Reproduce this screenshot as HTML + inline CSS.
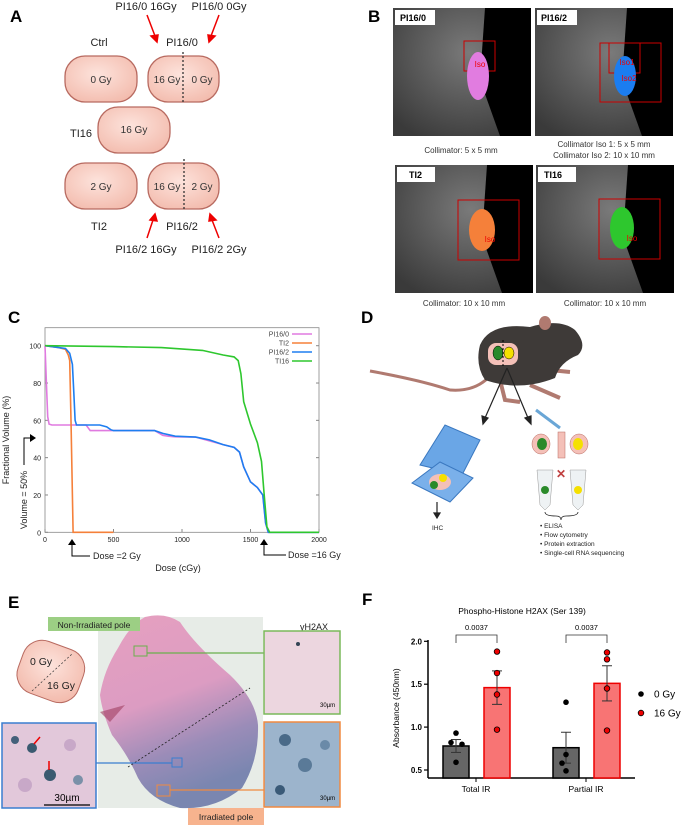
<!DOCTYPE html>
<html><head><meta charset="utf-8"><style>
html,body{margin:0;padding:0;background:#fff;}
body{width:685px;height:830px;position:relative;overflow:hidden;font-family:"Liberation Sans",sans-serif;}
svg{position:absolute;left:0;top:0;}
</style></head><body>
<svg width="685" height="830" viewBox="0 0 685 830" font-family="Liberation Sans, sans-serif">
<defs>
<radialGradient id="blob" cx="45%" cy="40%" r="65%"><stop offset="0" stop-color="#fde3dc"/><stop offset="1" stop-color="#f3bcae"/></radialGradient>
<radialGradient id="ct" cx="55%" cy="35%" r="75%"><stop offset="0" stop-color="#7a7a7a"/><stop offset="1" stop-color="#3a3a3a"/></radialGradient>
<linearGradient id="tis" x1="0" y1="0" x2="0.3" y2="1"><stop offset="0" stop-color="#e6a0c0"/><stop offset="0.5" stop-color="#dc9cc2"/><stop offset="0.78" stop-color="#9a8cb8"/><stop offset="1" stop-color="#7a86b0"/></linearGradient>
</defs>

<!-- Panel A -->
<g>
<text x="10" y="22" font-size="17" font-weight="bold">A</text>
<g font-size="11" fill="#222" text-anchor="middle">
<text x="146" y="10">PI16/0 16Gy</text>
<text x="219" y="10">PI16/0 0Gy</text>
<text x="99" y="46">Ctrl</text>
<text x="182" y="46">PI16/0</text>
<text x="81" y="137">TI16</text>
<text x="99" y="230">TI2</text>
<text x="182" y="230">PI16/2</text>
<text x="146" y="253">PI16/2 16Gy</text>
<text x="219" y="253">PI16/2 2Gy</text>
</g>
<g stroke="#e00" stroke-width="1.5" fill="#e00">
<line x1="147" y1="15" x2="155" y2="36"/><polygon points="151,36 158,35 157,42"/>
<line x1="219" y1="15" x2="211" y2="36"/><polygon points="208,35 215,36 209,42"/>
<line x1="147" y1="238" x2="153" y2="220"/><polygon points="150,220 157,221 155,214"/>
<line x1="219" y1="238" x2="212" y2="220"/><polygon points="209,221 216,220 210,214"/>
</g>
<g stroke="#b86a60" stroke-width="1.3" fill="url(#blob)" font-size="10" text-anchor="middle">
<g><rect x="65" y="56" width="72" height="46" rx="20"/><text x="101" y="83" fill="#333" stroke="none">0 Gy</text></g>
<g><rect x="148" y="56" width="71" height="46" rx="20"/><line x1="183" y1="52" x2="183" y2="104" stroke="#333" stroke-dasharray="2,2"/><text x="167" y="83" fill="#333" stroke="none">16 Gy</text><text x="202" y="83" fill="#333" stroke="none">0 Gy</text></g>
<g><rect x="98" y="107" width="72" height="46" rx="20"/><text x="134" y="133" fill="#333" stroke="none">16 Gy</text></g>
<g><rect x="65" y="163" width="72" height="46" rx="20"/><text x="101" y="190" fill="#333" stroke="none">2 Gy</text></g>
<g><rect x="148" y="163" width="71" height="46" rx="20"/><line x1="184" y1="159" x2="184" y2="211" stroke="#333" stroke-dasharray="2,2"/><text x="167" y="190" fill="#333" stroke="none">16 Gy</text><text x="202" y="190" fill="#333" stroke="none">2 Gy</text></g>
</g>
</g>

<!-- Panel B -->
<g>
<text x="368" y="22" font-size="17" font-weight="bold">B</text>
<g>
<rect x="393" y="8" width="138" height="128" fill="url(#ct)"/><polygon points="485,8 531,8 531,136 500,136 480,80" fill="#000"/>
<rect x="464" y="41" width="31" height="30" fill="none" stroke="#c00"/><ellipse cx="478" cy="76" rx="11" ry="24" fill="#e17ce0"/>
<text x="480" y="67" font-size="8" fill="#e00" text-anchor="middle">Iso</text>
<rect x="395" y="10" width="40" height="15" fill="#fff"/><text x="400" y="21" font-size="9" font-weight="bold">PI16/0</text></g>
<g>
<rect x="535" y="8" width="138" height="128" fill="url(#ct)"/><polygon points="627,8 673,8 673,136 642,136 622,80" fill="#000"/>
<rect x="600" y="43" width="61" height="59" fill="none" stroke="#c00"/><rect x="609" y="43" width="31" height="30" fill="none" stroke="#c00"/>
<ellipse cx="625" cy="76" rx="11" ry="20" fill="#1b7df0"/>
<text x="627" y="65" font-size="8" fill="#e00" text-anchor="middle">Iso1</text><text x="629" y="81" font-size="8" fill="#e00" text-anchor="middle">Iso2</text>
<rect x="537" y="10" width="40" height="15" fill="#fff"/><text x="541" y="21" font-size="9" font-weight="bold">PI16/2</text></g>
<g>
<rect x="395" y="165" width="138" height="128" fill="url(#ct)"/><polygon points="487,165 533,165 533,293 502,293 482,237" fill="#000"/>
<rect x="458" y="200" width="61" height="60" fill="none" stroke="#c00"/><ellipse cx="482" cy="230" rx="13" ry="21" fill="#f5803a"/>
<text x="490" y="242" font-size="8" fill="#e00" text-anchor="middle">Iso</text>
<rect x="397" y="167" width="38" height="15" fill="#fff"/><text x="409" y="178" font-size="9" font-weight="bold">TI2</text></g>
<g>
<rect x="536" y="165" width="138" height="128" fill="url(#ct)"/><polygon points="628,165 674,165 674,293 643,293 623,237" fill="#000"/>
<rect x="599" y="199" width="61" height="60" fill="none" stroke="#c00"/><ellipse cx="622" cy="228" rx="12" ry="21" fill="#2ec72e"/>
<text x="632" y="241" font-size="8" fill="#e00" text-anchor="middle">Iso</text>
<rect x="538" y="167" width="38" height="15" fill="#fff"/><text x="544" y="178" font-size="9" font-weight="bold">TI16</text></g>
<g font-size="8" fill="#333" text-anchor="middle">
<text x="461" y="153">Collimator: 5 x 5 mm</text>
<text x="604" y="147">Collimator Iso 1: 5 x 5 mm</text>
<text x="604" y="158">Collimator Iso 2: 10 x 10 mm</text>
<text x="464" y="306">Collimator: 10 x 10 mm</text>
<text x="605" y="306">Collimator: 10 x 10 mm</text>
</g>
</g>

<!-- Panel C -->
<g id="chartC">
<text x="8" y="323" font-size="17" font-weight="bold">C</text>
</g>

<!-- Panel D -->
<g>
<text x="361" y="323" font-size="17" font-weight="bold">D</text>
<path d="M370,371 Q420,380 450,390 Q475,392 490,376" stroke="#b07a70" stroke-width="3" fill="none"/>
<path d="M500,380 L505,400 L520,402 M530,385 L560,398 M550,370 L570,372" stroke="#b07a70" stroke-width="4" fill="none"/>
<path d="M480,345 Q490,322 530,327 Q560,318 575,330 Q588,345 578,355 Q560,362 555,378 Q520,392 485,380 Q475,365 480,345Z" fill="#3e3a38"/>
<ellipse cx="545" cy="323" rx="6" ry="7" fill="#b07a70"/>
<rect x="488" y="343" width="30" height="22" rx="8" fill="#f4c0b8"/>
<ellipse cx="498" cy="353" rx="5" ry="7" fill="#2a8a2a" stroke="#000" stroke-width="0.5"/><ellipse cx="509" cy="353" rx="5" ry="6" fill="#f5e000" stroke="#000" stroke-width="0.5"/>
<line x1="503" y1="340" x2="503" y2="367" stroke="#000" stroke-dasharray="2,2"/>
<g stroke="#222" stroke-width="1.2" fill="#222">
<line x1="507" y1="368" x2="485" y2="418"/><polygon points="482,416 488,418 483,424"/>
<line x1="507" y1="368" x2="528" y2="418"/><polygon points="525,418 531,416 531,424"/>
<line x1="437" y1="502" x2="437" y2="515"/><polygon points="434,513 440,513 437,518"/>
</g>
<g>
<polygon points="420,465 445,425 480,440 462,475" fill="#6aa6e6" stroke="#3a78c0"/>
<polygon points="412,483 440,462 473,478 450,502" fill="#7ab0ea" stroke="#3a78c0"/>
<ellipse cx="440" cy="482" rx="11" ry="8" fill="#f4c0b8"/><circle cx="434" cy="485" r="4" fill="#2a8a2a"/><circle cx="443" cy="478" r="4" fill="#f5e000"/>
</g>
<line x1="536" y1="410" x2="560" y2="428" stroke="#6aa6d6" stroke-width="3"/>
<ellipse cx="541" cy="444" rx="9" ry="10" fill="#f4c0b8" stroke="#b86a60" stroke-width="0.5"/><ellipse cx="542" cy="444" rx="5" ry="6" fill="#2a8a2a"/>
<rect x="558" y="432" width="7" height="26" fill="#f4c0b8" stroke="#b86a60" stroke-width="0.5"/>
<ellipse cx="579" cy="444" rx="9" ry="10" fill="#f4c0b8" stroke="#b86a60" stroke-width="0.5"/><ellipse cx="578" cy="444" rx="5" ry="6" fill="#f5e000"/>
<text x="561" y="478" font-size="12" fill="#c04040" text-anchor="middle" font-weight="bold">✕</text>
<path d="M537,470 L553,470 L550,505 L545,510 L540,505 Z" fill="#eef2f4" stroke="#999" stroke-width="0.5"/><circle cx="545" cy="490" r="4" fill="#2a8a2a"/>
<path d="M570,470 L586,470 L583,505 L578,510 L573,505 Z" fill="#eef2f4" stroke="#999" stroke-width="0.5"/><circle cx="578" cy="490" r="4" fill="#f5e000"/>
<path d="M545,512 Q545,516 556,516 Q561,516 561,520 Q561,516 566,516 Q578,516 578,512" stroke="#222" fill="none" stroke-width="0.8"/>
<g font-size="6.5" fill="#222">
<text x="432" y="530">IHC</text>
<text x="540" y="528">•  ELISA</text>
<text x="540" y="537">•  Flow cytometry</text>
<text x="540" y="546">•  Protein extraction</text>
<text x="540" y="555">•  Single-cell RNA sequencing</text>
</g>
</g>

<!-- Panel E -->
<g>
<text x="8" y="608" font-size="17" font-weight="bold">E</text>
<rect x="98" y="617" width="165" height="191" fill="#e7ece7"/>
<path d="M145,617 Q165,612 180,622 Q195,645 230,675 Q256,700 258,725 Q259,760 242,788 Q215,810 180,808 Q150,800 138,778 Q128,755 112,735 Q102,712 100,695 Q104,670 118,648 Q130,625 145,617Z" fill="url(#tis)"/>
<path d="M100,712 L125,705 L110,722Z" fill="#a04060" opacity="0.6"/>
<line x1="128" y1="767" x2="250" y2="688" stroke="#222" stroke-dasharray="2,2" stroke-width="0.8"/>
<rect x="134" y="646" width="13" height="10" fill="none" stroke="#6ab04c" stroke-width="1"/>
<line x1="147" y1="653" x2="264" y2="653" stroke="#6ab04c" stroke-width="1.2"/>
<rect x="172" y="758" width="10" height="9" fill="none" stroke="#3a7ed0"/>
<line x1="96" y1="763" x2="172" y2="763" stroke="#3a7ed0" stroke-width="1.2"/>
<rect x="157" y="785" width="13" height="11" fill="none" stroke="#f08a40"/>
<line x1="170" y1="790" x2="264" y2="790" stroke="#f08a40" stroke-width="1.2"/>
<rect x="48" y="617" width="92" height="14" fill="#9ccf84"/>
<text x="94" y="628" font-size="8.5" text-anchor="middle" fill="#222">Non-Irradiated pole</text>
<rect x="188" y="808" width="76" height="17" fill="#f7b38e"/>
<text x="226" y="820" font-size="8.5" text-anchor="middle" fill="#222">Irradiated pole</text>
<text x="300" y="630" font-size="9" fill="#222">γH2AX</text>
<g><rect x="19" y="644" width="64" height="55" rx="20" fill="url(#blob)" stroke="#b86a60" transform="rotate(20 51 671)"/>
<line x1="32" y1="691" x2="72" y2="654" stroke="#333" stroke-dasharray="2,2" stroke-width="0.7"/>
<text x="30" y="665" font-size="10.5" fill="#222">0 Gy</text><text x="47" y="689" font-size="10.5" fill="#222">16 Gy</text></g>
<g><rect x="2" y="723" width="94" height="85" fill="#e2c8da" stroke="#3a7ed0" stroke-width="1.5"/>
<circle cx="15" cy="740" r="4" fill="#44607a"/><circle cx="32" cy="748" r="5" fill="#3a5a70"/><circle cx="50" cy="775" r="6" fill="#3a5a70"/><circle cx="78" cy="780" r="5" fill="#7a90a8"/><circle cx="70" cy="745" r="6" fill="#c8a8c8"/><circle cx="25" cy="785" r="7" fill="#c8a8c8"/>
<line x1="40" y1="737" x2="34" y2="744" stroke="#e00" stroke-width="1.5"/><line x1="49" y1="761" x2="49" y2="770" stroke="#e00" stroke-width="1.5"/>
<line x1="44" y1="805" x2="90" y2="805" stroke="#000" stroke-width="1.2"/><text x="67" y="801" font-size="10" text-anchor="middle">30µm</text></g>
<g><rect x="264" y="631" width="76" height="83" fill="#ecd6df" stroke="#7ab85a" stroke-width="1.5"/><circle cx="298" cy="644" r="2" fill="#345"/><text x="320" y="707" font-size="6">30µm</text></g>
<g><rect x="264" y="722" width="76" height="85" fill="#9cb4cc" stroke="#f08a40" stroke-width="1.5"/>
<circle cx="285" cy="740" r="6" fill="#4a6a88"/><circle cx="305" cy="765" r="7" fill="#5a7a98"/><circle cx="280" cy="790" r="5" fill="#3a5a78"/><circle cx="325" cy="745" r="5" fill="#6a8aa8"/><text x="320" y="800" font-size="6">30µm</text></g>
</g>

<!-- Panel F -->
<g id="chartF">
<text x="362" y="605" font-size="17" font-weight="bold">F</text>
</g>
</svg>
<script>
const NS="http://www.w3.org/2000/svg";
function mk(p,tag,a,txt){const e=document.createElementNS(NS,tag);for(const k in a)e.setAttribute(k,a[k]);if(txt!=null)e.textContent=txt;p.appendChild(e);return e;}

/* ---- Panel C data ---- */
const cSeriesNames=["PI16/0","TI2","PI16/2","TI16"];
const cColors=["#e07ae0","#f5803a","#1e7ef0","#2ec72e"];
const cDosePI160=[0,10,20,30,50,300,330,800,860,900,950,1100,1200,1300,1380,1420,1450,1500,1550,1590,1610,1630,2000];
const cVolPI160=[100,80,62,58,57.5,57.5,54.5,54.5,52,51.5,51.2,51,49,47,45.5,43,35,27,24,20,5,0,0];
const cDoseTI2=[0,100,150,170,180,190,200,205,500];
const cVolTI2=[100,99,98,95,92,60,20,0,0];
const cDosePI162=[0,100,150,180,200,210,220,230,400,450,480,500,800,860,950,1100,1200,1300,1380,1420,1450,1500,1550,1590,1610,1630,2000];
const cVolPI162=[100,99,98.5,96,90,75,60,57.5,57.5,56.5,55,54.5,54.5,53,51.5,51,49.5,47,45.5,43,35,27,24,20,5,0,0];
const cDoseTI16=[0,500,850,1150,1300,1380,1410,1430,1450,1500,1550,1580,1600,1620,1640,2000];
const cVolTI16=[100,99.5,99,97.5,95,94,92,85,70,58,48,38,20,3,0,0];
const cXTicks=[0,500,1000,1500,2000];
const cYTicks=[0,20,40,60,80,100];

(function(){
const g=document.getElementById("chartC");
const X=d=>45+d/2000*274, Y=v=>532.3-v/100*186.6;
const frame=mk(g,"rect",{x:45,y:327.7,width:274,height:204.6,fill:"none",stroke:"#888","stroke-width":0.8});


cYTicks.forEach(t=>{
  const tl=mk(g,"text",{x:41,y:Y(t)+3,"font-size":7,"text-anchor":"end",fill:"#222"},t);
  
  
  mk(g,"line",{x1:45,x2:48,y1:Y(t),y2:Y(t),stroke:"#888"});
  mk(g,"line",{x1:316,x2:319,y1:Y(t),y2:Y(t),stroke:"#888"});
});
cXTicks.forEach(t=>{
  const tl=mk(g,"text",{x:X(t),y:542,"font-size":7,"text-anchor":"middle",fill:"#222"},t);
  
  
  mk(g,"line",{x1:X(t),x2:X(t),y1:532.3,y2:529,stroke:"#888"});
});
const ds=[[cDosePI160,cVolPI160],[cDoseTI2,cVolTI2],[cDosePI162,cVolPI162],[cDoseTI16,cVolTI16]];
ds.forEach((s,i)=>{
  const p=mk(g,"polyline",{points:s[0].map((d,j)=>X(d).toFixed(1)+","+Y(s[1][j]).toFixed(1)).join(" "),fill:"none",stroke:cColors[i],"stroke-width":1.6});
  
  
});
const ly=[334,343,352,361];
cSeriesNames.forEach((n,i)=>{
  const t=mk(g,"text",{x:289,y:ly[i]+2.5,"font-size":7,"text-anchor":"end",fill:"#444"},n);
  
  
  mk(g,"line",{x1:292,x2:312,y1:ly[i],y2:ly[i],stroke:cColors[i],"stroke-width":1.5});
});
const yt=mk(g,"text",{x:0,y:0,"font-size":9,"text-anchor":"middle",fill:"#222",transform:"translate(9,440) rotate(-90)"},"Fractional Volume (%)");


const yt2=mk(g,"text",{x:0,y:0,"font-size":9,"text-anchor":"middle",fill:"#222",transform:"translate(27,500) rotate(-90)"},"Volume  = 50%");


mk(g,"polyline",{points:"24,465 24,438 30,438",fill:"none",stroke:"#000","stroke-width":1});
mk(g,"polygon",{points:"30,434 36,438 30,442",fill:"#000"});
mk(g,"polyline",{points:"72,544 72,556 90,556",fill:"none",stroke:"#000","stroke-width":1});
mk(g,"polygon",{points:"68,545 72,539 76,545",fill:"#000"});
const d2=mk(g,"text",{x:93,y:559,"font-size":9,fill:"#222"},"Dose =2 Gy");


mk(g,"polyline",{points:"264,544 264,555 286,555",fill:"none",stroke:"#000","stroke-width":1});
mk(g,"polygon",{points:"260,545 264,539 268,545",fill:"#000"});
const d16=mk(g,"text",{x:288,y:558,"font-size":9,fill:"#222"},"Dose =16 Gy");


const xt=mk(g,"text",{x:178,y:571,"font-size":9,"text-anchor":"middle",fill:"#222"},"Dose (cGy)");


})();

/* ---- Panel F data ---- */
const fCategories=["Total IR","Partial IR"];
const fGroups=["0 Gy","16 Gy"];
const fMeans0=[0.78,0.76];
const fMeans16=[1.46,1.51];
const fSem0=[0.075,0.18];
const fSem16=[0.195,0.205];
const fPoints0=[[0.93,0.82,0.80,0.59],[1.29,0.68,0.58,0.49]];
const fPoints16=[[1.88,1.63,1.38,0.97],[1.87,1.79,1.45,0.96]];
const fPValues=["0.0037","0.0037"];
const fYTicks=[0.5,1.0,1.5,2.0];

(function(){
const g=document.getElementById("chartF");
const Y=v=>770-(v-0.5)*85.8;
const catX=[456,566], off=[0,41], bw=26;
const jit=[[0,-5,6,0],[0,0,-4,0]];
mk(g,"line",{x1:428,x2:428,y1:640,y2:778,stroke:"#000","stroke-width":1.5});
mk(g,"line",{x1:428,x2:635,y1:778,y2:778,stroke:"#000","stroke-width":1.5});
fYTicks.forEach(t=>{
  mk(g,"line",{x1:424,x2:428,y1:Y(t),y2:Y(t),stroke:"#000","stroke-width":1.2});
  const tl=mk(g,"text",{x:422,y:Y(t)+3,"font-size":8,"font-weight":"bold","text-anchor":"end"},t.toFixed(1));
  
  
});
fCategories.forEach((c,i)=>{
  const cx=catX[i]+20;
  mk(g,"line",{x1:cx,x2:cx,y1:778,y2:782,stroke:"#000"});
  const tl=mk(g,"text",{x:cx,y:792,"font-size":8.5,"text-anchor":"middle"},c);
  
  
  [[fMeans0,fSem0,fPoints0,"#666","#000","#000"],[fMeans16,fSem16,fPoints16,"#f87474","#e00","#e00"]].forEach((s,k)=>{
    const x=catX[i]+off[k], m=s[0][i], e=s[1][i];
    const b=mk(g,"rect",{x:x-bw/2,y:Y(m),width:bw,height:778-Y(m),fill:s[3],stroke:s[4],"stroke-width":1.5});
    
    
    mk(g,"line",{x1:x,x2:x,y1:Y(m+e),y2:Y(m-e),stroke:"#333"});
    mk(g,"line",{x1:x-5,x2:x+5,y1:Y(m+e),y2:Y(m+e),stroke:"#333"});
    mk(g,"line",{x1:x-5,x2:x+5,y1:Y(m-e),y2:Y(m-e),stroke:"#333"});
    s[2][i].forEach((v,j)=>{
      const p=mk(g,"circle",{cx:x+(k?0:jit[i][j]),cy:Y(v),r:2.8,fill:s[5],stroke:"#000","stroke-width":k?0.8:0});
      
      
    });
  });
  const x1=catX[i], x2=catX[i]+off[1];
  mk(g,"polyline",{points:`${x1},643 ${x1},635 ${x2},635 ${x2},643`,fill:"none",stroke:"#333","stroke-width":0.8});
  const pv=mk(g,"text",{x:(x1+x2)/2,y:630,"font-size":7.5,"text-anchor":"middle"},fPValues[i]);
  
  
});
const t=mk(g,"text",{x:522,y:614,"font-size":8.5,"text-anchor":"middle"},"Phospho-Histone H2AX (Ser 139)");


const yt=mk(g,"text",{x:0,y:0,"font-size":8.5,"text-anchor":"middle",transform:"translate(399,708) rotate(-90)"},"Absorbance (450nm)");


fGroups.forEach((n,i)=>{
  const y=694+i*19;
  mk(g,"circle",{cx:641,cy:y,r:2.8,fill:i?"#e00":"#000",stroke:"#000","stroke-width":i?0.8:0});
  const l=mk(g,"text",{x:654,y:y+3.5,"font-size":10},n);
  
  
});
})();
</script>
</body></html>
